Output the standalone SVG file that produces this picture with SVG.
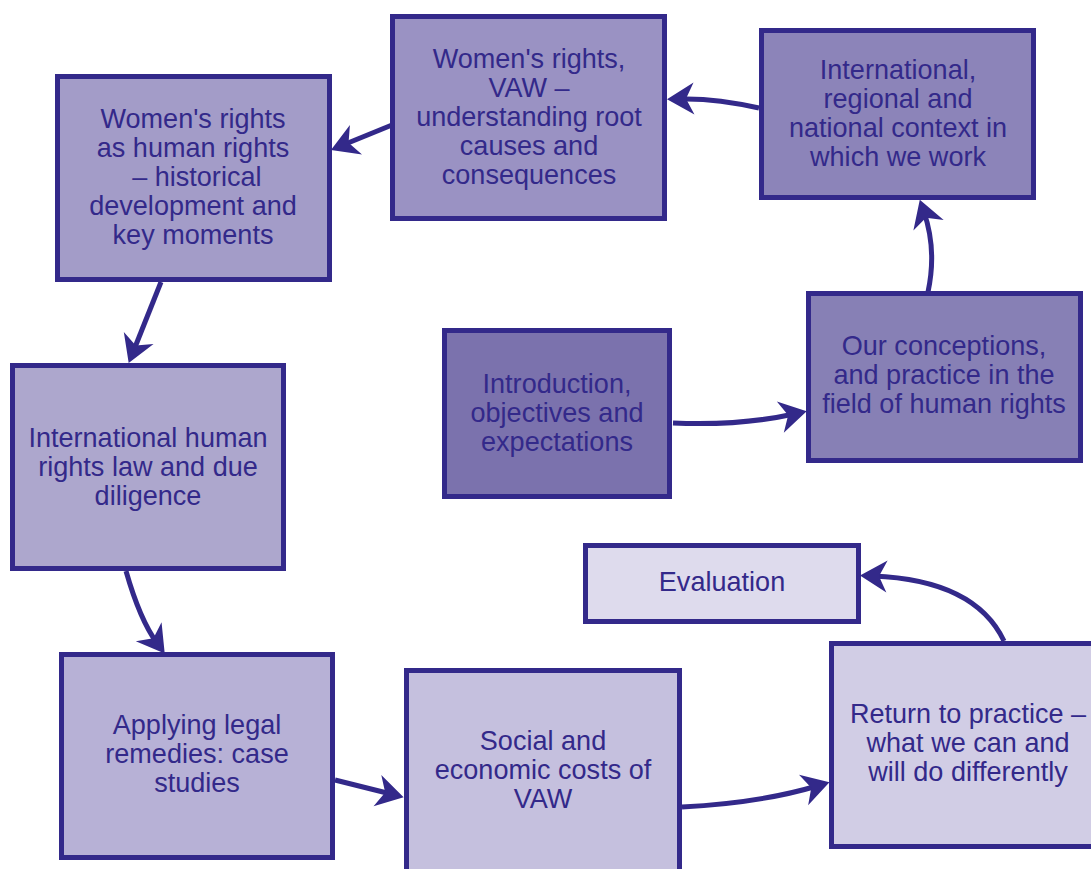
<svg xmlns="http://www.w3.org/2000/svg" width="1091" height="869" viewBox="0 0 1091 869">
<style>
.box{stroke:#33298a;stroke-width:5}
.t{font-family:"Liberation Sans",Arial,sans-serif;font-size:28.5px;fill:#33298a;text-anchor:middle}
.c{fill:none;stroke:#33298a;stroke-width:5}
</style>
<defs>
<marker id="ah" markerUnits="userSpaceOnUse" markerWidth="44" markerHeight="44" viewBox="-22 -22 44 44" refX="0" refY="0" orient="auto">
<path d="M13,0 L-14,-16 L-6,0 L-14,16 Z" fill="#33298a"/>
</marker>
</defs>
<rect width="1091" height="869" fill="#ffffff"/>
<g id="connectors">
<path class="c" d="M673,423 Q740,426 794,414" marker-end="url(#ah)"/>
<path class="c" d="M928,292 Q937,250 924,212" marker-end="url(#ah)"/>
<path class="c" d="M759,108 Q715,98 680,99" marker-end="url(#ah)"/>
<path class="c" d="M392,125 L343,145" marker-end="url(#ah)"/>
<path class="c" d="M161,282 L133.5,351" marker-end="url(#ah)"/>
<path class="c" d="M126,571 Q140,620 157,643" marker-end="url(#ah)"/>
<path class="c" d="M335,780 L391,794" marker-end="url(#ah)"/>
<path class="c" d="M682,807 Q760,803 817,786" marker-end="url(#ah)"/>
<path class="c" d="M1004,641 Q975,580 873,576" marker-end="url(#ah)"/>
</g>
<g id="node-womens-rights-human-rights">
<rect class="box" x="57.5" y="76.5" width="272" height="203" fill="#a39cc8"/>
<text class="t" transform="translate(193 0) scale(0.95 1)"><tspan x="0" y="128">Women's rights</tspan><tspan x="0" y="157">as human rights</tspan><tspan x="4" y="186">– historical</tspan><tspan x="0" y="215">development and</tspan><tspan x="0" y="244">key moments</tspan></text>
</g>
<g id="node-vaw-root-causes">
<rect class="box" x="392.5" y="16.5" width="272" height="202" fill="#9a92c3"/>
<text class="t" transform="translate(529 0) scale(0.95 1)"><tspan x="0" y="68">Women's rights,</tspan><tspan x="0" y="97">VAW –</tspan><tspan x="0" y="126">understanding root</tspan><tspan x="0" y="155">causes and</tspan><tspan x="0" y="184">consequences</tspan></text>
</g>
<g id="node-context">
<rect class="box" x="761.5" y="30.5" width="272" height="167" fill="#8c84b9"/>
<text class="t" transform="translate(898 0) scale(0.95 1)"><tspan x="0" y="79">International,</tspan><tspan x="0" y="108">regional and</tspan><tspan x="0" y="137">national context in</tspan><tspan x="0" y="166">which we work</tspan></text>
</g>
<g id="node-conceptions">
<rect class="box" x="808.5" y="293.5" width="272" height="167" fill="#8780b5"/>
<text class="t" transform="translate(944 0) scale(0.95 1)"><tspan x="0" y="355">Our conceptions,</tspan><tspan x="0" y="384">and practice in the</tspan><tspan x="0" y="413">field of human rights</tspan></text>
</g>
<g id="node-introduction">
<rect class="box" x="444.5" y="330.5" width="225" height="166" fill="#7b72ad"/>
<text class="t" transform="translate(557 0) scale(0.95 1)"><tspan x="0" y="393">Introduction,</tspan><tspan x="0" y="422">objectives and</tspan><tspan x="0" y="451">expectations</tspan></text>
</g>
<g id="node-ihrl">
<rect class="box" x="12.5" y="365.5" width="271" height="203" fill="#ada7cd"/>
<text class="t" transform="translate(148 0) scale(0.95 1)"><tspan x="0" y="447">International human</tspan><tspan x="0" y="476">rights law and due</tspan><tspan x="0" y="505">diligence</tspan></text>
</g>
<g id="node-legal-remedies">
<rect class="box" x="61.5" y="654.5" width="271" height="203" fill="#b7b1d6"/>
<text class="t" transform="translate(197 0) scale(0.95 1)"><tspan x="0" y="734">Applying legal</tspan><tspan x="0" y="763">remedies: case</tspan><tspan x="0" y="792">studies</tspan></text>
</g>
<g id="node-costs">
<rect class="box" x="406.5" y="670.5" width="273" height="212" fill="#c5c0de"/>
<text class="t" transform="translate(543 0) scale(0.95 1)"><tspan x="0" y="750">Social and</tspan><tspan x="0" y="779">economic costs of</tspan><tspan x="0" y="808">VAW</tspan></text>
</g>
<g id="node-return">
<rect class="box" x="831.5" y="643.5" width="274" height="203" fill="#d1cde5"/>
<text class="t" transform="translate(968 0) scale(0.95 1)"><tspan x="0" y="723">Return to practice –</tspan><tspan x="0" y="752">what we can and</tspan><tspan x="0" y="781">will do differently</tspan></text>
</g>
<g id="node-evaluation">
<rect class="box" x="585.5" y="545.5" width="273" height="76" fill="#dedbed"/>
<text class="t" transform="translate(722 0) scale(0.95 1)"><tspan x="0" y="591">Evaluation</tspan></text>
</g>
</svg>
